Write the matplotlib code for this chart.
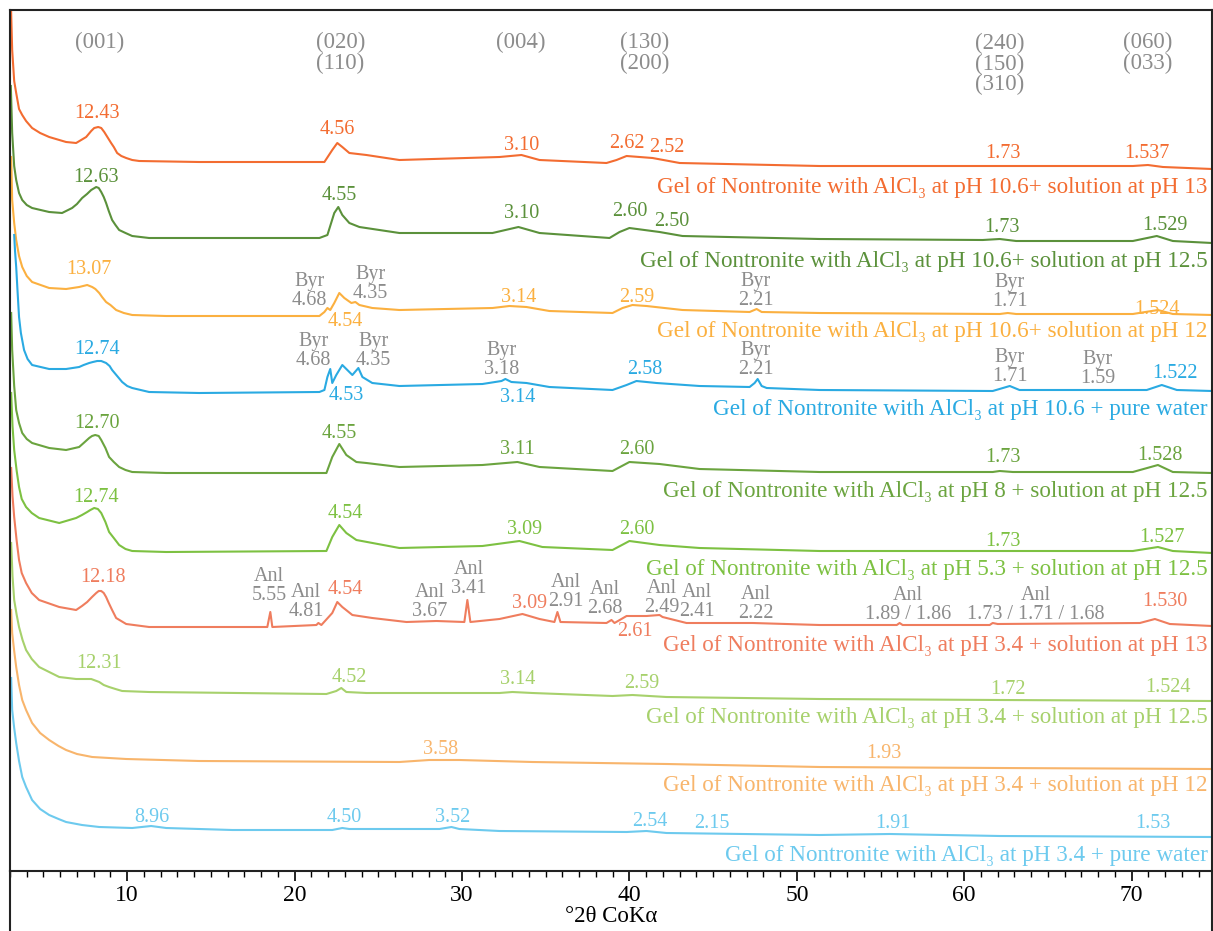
import matplotlib
matplotlib.use("Agg")
import matplotlib.pyplot as plt
from matplotlib.lines import Line2D
from matplotlib.ticker import MultipleLocator

plt.rcParams['font.family'] = ['Liberation Serif', 'DejaVu Serif']

# XRD patterns (2theta CoKa, stacked intensity in a.u.)
ph106_13_x = [3.0, 3.13, 3.25, 3.37, 3.54, 3.73, 3.96, 4.32, 4.8, 5.34, 6.35, 6.95, 7.55, 7.85, 8.03, 8.27, 8.45, 8.63,
              9.04, 9.2, 9.40, 9.65, 9.94, 10.3, 10.72, 14.3,
              21.5, 21.78, 22.25, 22.55, 22.85, 23.27, 24.29, 26.26, 32.24, 33.55, 34.63, 38.63, 39.23, 39.83, 41.38,
              43.0, 51.36, 62.12, 70.07, 70.97, 71.87, 74.8]
ph106_13_y = [900, 821, 790, 778, 762, 756, 750, 743, 738, 734, 729, 728, 734, 740, 743, 744, 743, 739,
              728, 724, 718, 715, 713, 711, 710, 709,
              709, 709, 721, 728, 724, 718, 716, 711, 714, 716, 711, 708, 711, 715, 713,
              708, 705, 705, 705, 706, 704, 702]

ph106_125_x = [3.05, 3.13, 3.25, 3.37, 3.54, 3.73, 4.0, 4.32, 5.34, 6.11, 6.71, 7.0, 7.31, 7.6, 7.85, 8.15, 8.3, 8.45,
               8.6, 8.74, 8.9, 9.10, 9.3, 9.52, 9.9, 10.30, 11.31,
               21.48, 21.96, 22.37, 22.61, 22.85, 23.27, 23.87, 26.26, 31.82, 33.37, 34.63, 38.81, 39.41, 40.0, 41.8,
               43.17, 51.36, 61.1, 62.12, 63.1, 70.07, 71.5, 72.46, 74.8]
ph106_125_y = [785, 738, 705, 691, 678, 671, 666, 663, 659, 658, 663, 667, 673, 677, 681, 684, 683, 679,
               674, 668, 660, 651, 646, 641, 638, 635, 633,
               633, 636, 658, 664, 656, 648, 644, 638, 638, 644, 638, 633, 639, 643, 639,
               635, 632, 631, 632, 630, 630, 635, 630, 628]

ph106_12_x = [3.07, 3.13, 3.25, 3.37, 3.54, 3.73, 4.0, 4.32, 5.34, 6.35, 7.13, 7.61, 7.91, 8.1, 8.33, 8.5, 8.74, 9.0,
              9.34, 9.8, 10.30, 12.33, 21.48,
              21.78, 21.96, 22.13, 22.37, 22.67, 22.97, 23.39, 23.63, 23.87, 24.64, 26.26, 31.82, 32.83, 33.85, 35.22,
              38.99, 39.59, 40.18, 41.02, 43.17, 47.18, 47.6, 47.9, 51.36, 62.12, 62.6, 63.1, 70.07, 71.57, 72.46, 74.8]
ph106_12_y = [714, 671, 648, 631, 615, 604, 595, 589, 583, 582, 584, 586, 584, 582, 578, 574, 569, 566,
              561, 558, 556, 555, 555,
              559, 563, 561, 568, 578, 573, 568, 569, 566, 563, 561, 563, 565, 564, 560,
              558, 563, 566, 565, 561, 559, 562, 559, 558, 557, 558, 557, 557, 561, 557, 556]

ph106_w_x = [3.25, 3.3, 3.37, 3.45, 3.54, 3.65, 3.84, 4.05, 4.32, 5.34, 6.35, 7.13, 7.4, 7.73, 7.95, 8.21, 8.45, 8.74,
             8.95, 9.10, 9.4, 9.70, 10.0, 10.30, 11.31, 14.3, 21.48,
             21.78, 21.96, 22.13, 22.25, 22.49, 22.85, 23.15, 23.45, 23.81, 24.05, 24.64, 26.26, 31.22, 32.36, 32.59,
             32.95, 33.85, 35.22, 38.99, 39.83, 40.42, 41.62, 44.19, 47.18, 47.48, 47.66, 47.9, 48.2, 51.36, 61.7,
             62.72, 63.3, 70.9, 71.8, 72.7, 74.8]
ph106_w_y = [636, 620, 604, 580, 554, 538, 521, 512, 506, 502, 502, 504, 506, 508, 509, 510, 510, 508,
             505, 501, 495, 489, 485, 483, 479, 478, 479,
             481, 494, 502, 488, 496, 506, 501, 496, 503, 494, 488, 485, 487, 490, 492,
             489, 488, 484, 481, 486, 490, 488, 485, 484, 488, 492, 485, 483, 481, 480,
             485, 481, 481, 486, 481, 480]

ph8_x = [3.07, 3.13, 3.25, 3.37, 3.54, 3.73, 4.0, 4.32, 5.34, 6.35, 7.13, 7.4, 7.73, 7.9, 8.09, 8.3, 8.45, 8.7, 8.92,
         9.2, 9.52, 9.9, 10.30, 12.33, 21.9, 22.25,
         22.67, 23.09, 23.69, 24.29, 26.26, 31.22, 33.31, 34.63, 38.99, 40.0, 41.8, 44.19, 51.36, 61.7, 62.12, 62.9,
         70.07, 71.57, 72.46, 74.8]
ph8_y = [558, 521, 485, 461, 448, 438, 432, 428, 423, 421, 424, 428, 433, 435, 436, 435, 431, 423, 414,
         409, 404, 401, 399, 398, 398, 414,
         427, 416, 409, 408, 404, 406, 409, 404, 400, 409, 407, 402, 399, 399, 400, 399,
         399, 406, 399, 398]

ph53_x = [3.07, 3.15, 3.25, 3.4, 3.54, 3.7, 3.96, 4.3, 4.74, 5.94, 6.95, 7.3, 7.61, 7.8, 8.03, 8.25, 8.45, 8.7, 8.92,
          9.2, 9.52, 9.9, 10.30, 12.33, 21.9, 22.25, 22.67,
          23.09, 23.69, 26.26, 31.22, 33.43, 34.8, 38.99, 40.0, 41.8, 44.19, 51.36, 62.12, 70.07, 71.57, 72.46, 74.8]
ph53_y = [478, 445, 421, 400, 384, 372, 364, 358, 353, 348, 353, 356, 359, 361, 363, 362, 358, 349, 339,
          333, 326, 322, 320, 319, 320, 334, 346,
          338, 331, 323, 325, 330, 324, 321, 330, 326, 323, 320, 320, 320, 324, 320, 318]

ph34_13_x = [3.07, 3.15, 3.25, 3.4, 3.54, 3.7, 3.96, 4.3, 4.74, 5.94, 6.95, 7.3, 7.61, 7.9, 8.15, 8.3, 8.45, 8.6, 8.74,
             8.9, 9.10, 9.34, 9.94, 11.31, 18.37, 18.55,
             18.67, 21.30, 21.42, 21.60, 22.25, 22.55, 22.85, 23.45, 24.64, 26.68, 28.47, 30.14, 30.32, 30.50, 32.24,
             33.61, 34.63, 35.52, 35.70, 35.88, 38.63, 38.93, 39.11, 39.83, 41.02, 41.80, 41.98, 43.17, 43.41, 47.36,
             51.36, 55.97, 56.14, 56.32, 61.52, 61.70, 62.0, 70.49, 71.39, 72.28, 74.8]
ph34_13_y = [403, 375, 354, 330, 311, 298, 288, 278, 271, 264, 261, 265, 269, 274, 278, 280, 280, 278, 274,
             268, 261, 253, 247, 244, 244, 259,
             244, 246, 248, 246, 258, 269, 264, 256, 253, 249, 250, 249, 271, 249, 252,
             257, 252, 249, 259, 249, 248, 251, 248, 255, 255, 256, 254, 249, 248, 248,
             246, 246, 248, 246, 246, 248, 247, 248, 252, 247, 245]

ph34_125_x = [3.07, 3.15, 3.25, 3.4, 3.54, 3.75, 3.96, 4.3, 4.74, 5.94, 6.95, 7.85, 8.33, 8.6, 8.92, 9.3, 9.70, 11.31,
              21.9, 22.49, 22.79, 23.09, 24.29, 32.24, 33.01, 34.21, 38.99, 40.18, 42.21, 51.36, 62.12, 74.8]
ph34_125_y = [328, 295, 271, 256, 244, 231, 221, 212, 204, 194, 192, 192, 189, 186, 184, 182, 180, 179,
              177, 180, 183, 179, 178, 178, 179, 178, 175, 176, 174, 172, 171, 170]

ph34_12_x = [3.07, 3.13, 3.25, 3.37, 3.54, 3.73, 3.96, 4.32, 4.8, 5.34, 5.9, 6.35, 7.0, 7.91, 9.94, 14.3, 26.26, 28.05,
             29.84, 34.21, 42.21, 51.36, 62.12, 74.8]
ph34_12_y = [261, 238, 220, 204, 186, 171, 161, 148, 138, 131, 125, 121, 117, 114, 112, 110, 109, 111,
             111, 109, 107, 104, 103, 102]

ph34_w_x = [3.07, 3.13, 3.25, 3.37, 3.54, 3.73, 3.96, 4.32, 4.8, 5.34, 5.9, 6.35, 7.3, 8.33, 10.30, 11.43, 12.33, 16.28,
            22.25, 22.85, 23.27, 28.65, 29.37, 29.84, 32.24, 39.83, 41.02, 42.21, 51.36, 55.55, 62.12, 74.8]
ph34_w_y = [193, 161, 143, 128, 110, 94, 84, 71, 62, 56, 52, 49, 46, 44, 43, 45, 43, 41,
            41, 43, 42, 42, 44, 42, 40, 39, 40, 38, 36, 37, 35, 34]

series_names = [
    "Gel of Nontronite with AlCl₃ at pH 10.6+ solution at pH 13",
    "Gel of Nontronite with AlCl₃ at pH 10.6+ solution at pH 12.5",
    "Gel of Nontronite with AlCl₃ at pH 10.6+ solution at pH 12",
    "Gel of Nontronite with AlCl₃ at pH 10.6 + pure water",
    "Gel of Nontronite with AlCl₃ at pH 8 + solution at pH 12.5",
    "Gel of Nontronite with AlCl₃ at pH 5.3 + solution at pH 12.5",
    "Gel of Nontronite with AlCl₃ at pH 3.4 + solution at pH 13",
    "Gel of Nontronite with AlCl₃ at pH 3.4 + solution at pH 12.5",
    "Gel of Nontronite with AlCl₃ at pH 3.4 + solution at pH 12",
    "Gel of Nontronite with AlCl₃ at pH 3.4 + pure water",
]
series_x = [ph106_13_x, ph106_125_x, ph106_12_x, ph106_w_x, ph8_x, ph53_x, ph34_13_x, ph34_125_x, ph34_12_x, ph34_w_x]
series_y = [ph106_13_y, ph106_125_y, ph106_12_y, ph106_w_y, ph8_y, ph53_y, ph34_13_y, ph34_125_y, ph34_12_y, ph34_w_y]
colors = ["#F36C31", "#5B913B", "#FBB040", "#2AAAE2", "#6BA43F", "#7DC142", "#EF7D5E", "#A7D16C", "#F8B56C", "#6DCAEE"]
name_y = [684, 610, 539, 461, 379, 302, 226, 153, 85, 16]

# d-spacing labels on each pattern: (text, 2theta, height)
peak_labels = [
    [("12.43", 8.21, 757), ("4.56", 22.55, 741), ("3.10", 33.55, 726), ("2.62", 39.83, 727), ("2.52", 42.21, 723),
     ("1.73", 62.3, 717), ("1.537", 70.9, 718)],
    [("12.63", 8.15, 693), ("4.55", 22.67, 676), ("3.10", 33.55, 658), ("2.60", 40.0, 659), ("2.50", 42.5, 650),
     ("1.73", 62.24, 644), ("1.529", 71.97, 645)],
    [("13.07", 7.73, 601), ("4.54", 23.03, 549), ("3.14", 33.37, 574), ("2.59", 40.42, 574), ("1.524", 71.5, 561)],
    [("12.74", 8.21, 521), ("4.53", 23.09, 476), ("3.14", 33.31, 474), ("2.58", 40.9, 501), ("1.522", 72.58, 498)],
    [("12.70", 8.21, 448), ("4.55", 22.67, 438), ("3.11", 33.31, 421), ("2.60", 40.42, 421), ("1.73", 62.3, 413),
     ("1.528", 71.69, 415)],
    [("12.74", 8.15, 374), ("4.54", 23.03, 357), ("3.09", 33.73, 341), ("2.60", 40.42, 342), ("1.73", 62.3, 330),
     ("1.527", 71.8, 333)],
    [("12.18", 8.57, 293), ("4.54", 23.03, 281), ("3.09", 34.03, 268), ("2.61", 40.3, 240), ("1.530", 71.97, 269)],
    [("12.31", 8.33, 207), ("4.52", 23.27, 193), ("3.14", 33.31, 191), ("2.59", 40.72, 187), ("1.72", 62.6, 182),
     ("1.524", 72.16, 183)],
    [("3.58", 28.71, 121), ("1.93", 55.19, 117)],
    [("8.96", 11.49, 54), ("4.50", 22.97, 53), ("3.52", 29.43, 53), ("2.54", 41.2, 49), ("2.15", 44.9, 47),
     ("1.91", 55.73, 47), ("1.53", 71.27, 48)],
]

# byerite / analcime reflections (grey)
phase_labels = [
    ("Byr\n4.68", 20.88, 580), ("Byr\n4.35", 24.52, 587), ("Byr\n2.21", 47.54, 580), ("Byr\n1.71", 62.72, 579),
    ("Byr\n4.68", 21.12, 520), ("Byr\n4.35", 24.7, 520), ("Byr\n3.18", 32.36, 511), ("Byr\n2.21", 47.54, 511),
    ("Byr\n1.71", 62.72, 504), ("Byr\n1.59", 67.98, 502),
    ("Anl\n5.55", 18.49, 285), ("Anl\n4.81", 20.70, 269), ("Anl\n3.67", 28.05, 269), ("Anl\n3.41", 30.38, 292),
    ("Anl\n2.91", 36.18, 279), ("Anl\n2.68", 38.51, 272), ("Anl\n2.49", 41.92, 273), ("Anl\n2.41", 44.0, 269),
    ("Anl\n2.22", 47.54, 267), ("Anl\n1.89 / 1.86", 56.62, 266), ("Anl\n1.73 / 1.71 / 1.68", 64.27, 266),
]

hkl_labels = [("(001)", 8.33, 829), ("(020)\n(110)", 22.73, 818), ("(004)", 33.49, 829),
              ("(130)\n(200)", 40.9, 818), ("(240)\n(150)\n(310)", 62.12, 807), ("(060)\n(033)", 70.97, 818)]

grey = "#8C8C8C"

fig = plt.figure(figsize=(12.13, 9.31), dpi=100)
ax = fig.add_axes([10 / 1213, 60 / 931, 1202 / 1213, 861 / 931])

for xs, ys, c in zip(series_x, series_y, colors):
    ax.plot(xs, ys, color=c, lw=1.5)

for name, c, yy in zip(series_names, colors, name_y):
    ax.text(74.55, yy, name, color=c, fontsize=16.7, ha='right', va='center')

for labels, c in zip(peak_labels, colors):
    for s, xx, yy in labels:
        ax.text(xx, yy, s, color=c, fontsize=14.5, ha='center', va='center')

for s, xx, yy in phase_labels:
    ax.text(xx, yy, s, color=grey, fontsize=14.5, ha='center', va='center', linespacing=0.95)

for s, xx, yy in hkl_labels:
    ax.text(xx, yy, s, color=grey, fontsize=16.5, ha='center', va='center', linespacing=0.95)

ax.set_xlim(3, 74.8)
ax.set_ylim(0, 861)
ax.set_yticks([])
ax.xaxis.set_major_locator(MultipleLocator(10))
ax.xaxis.set_minor_locator(MultipleLocator(1))
ax.tick_params(axis='x', which='major', direction='out', length=7, width=1.2, labelsize=17, pad=3)
ax.tick_params(axis='x', which='minor', direction='out', length=4.5, width=1.0)
ax.set_xlabel("°2θ CoKα", fontsize=16.5, labelpad=0)
for sp in ax.spines.values():
    sp.set_linewidth(1.5)
    sp.set_color("#222222")

# outer frame continues below the x axis
fig.add_artist(Line2D([10 / 1213, 10 / 1213], [0, 60 / 931], color="#222222", lw=1.5))
fig.add_artist(Line2D([1212 / 1213, 1212 / 1213], [0, 60 / 931], color="#222222", lw=1.5))

fig.savefig("out.png", dpi=100)
plt.close(fig)
